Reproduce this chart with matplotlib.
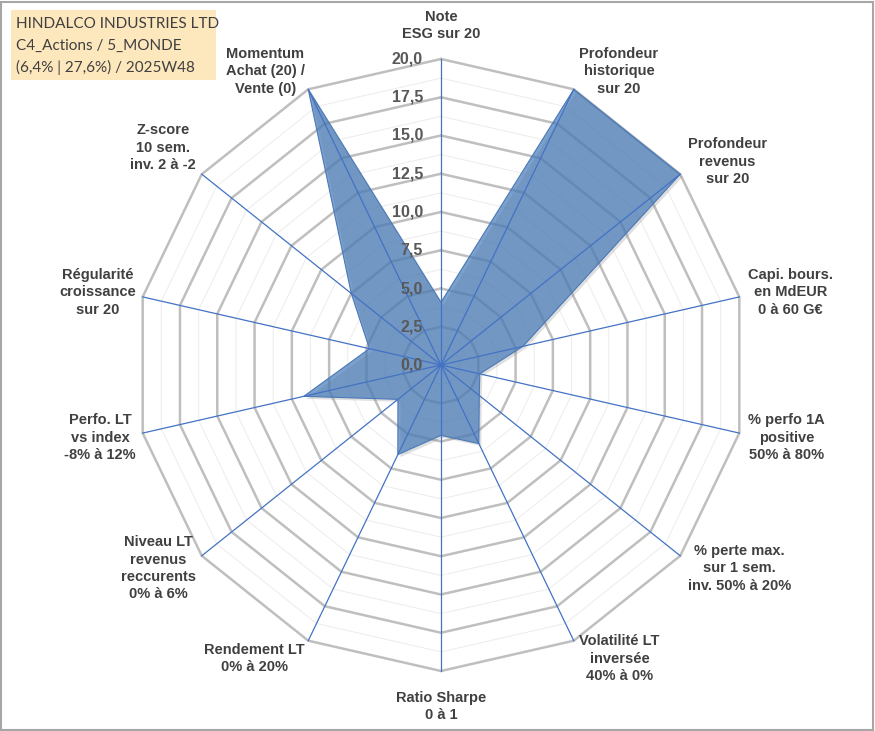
import numpy as np
import matplotlib
matplotlib.use("Agg")
import matplotlib.pyplot as plt
from matplotlib.patches import Polygon, Rectangle

# ---------------- data ----------------
categories = [
    "Note\nESG sur 20",
    "Profondeur\nhistorique\nsur 20",
    "Profondeur\nrevenus\nsur 20",
    "Capi. bours.\nen MdEUR\n0 à 60 G€",
    "% perfo 1A\npositive\n50% à 80%",
    "% perte max.\nsur 1 sem.\ninv. 50% à 20%",
    "Volatilité LT\ninversée\n40% à 0%",
    "Ratio Sharpe\n0 à 1",
    "Rendement LT\n0% à 20%",
    "Niveau LT\nrevenus\nreccurents\n0% à 6%",
    "Perfo. LT\nvs index\n-8% à 12%",
    "Régularité\ncroissance\nsur 20",
    "Z-score\n10 sem.\ninv. 2 à -2",
    "Momentum\nAchat (20) /\nVente (0)",
]
values = [4.1, 20.0, 20.0, 5.5, 2.6, 3.2, 5.7, 4.6, 6.5, 3.6, 9.2, 4.8, 7.5, 20.0]
tick_values = [0.0, 2.5, 5.0, 7.5, 10.0, 12.5, 15.0, 17.5, 20.0]
tick_labels = ["0,0", "2,5", "5,0", "7,5", "10,0", "12,5", "15,0", "17,5", "20,0"]
minor_step = 1.25
r_max = 20.0
title_lines = ["HINDALCO INDUSTRIES LTD", "C4_Actions / 5_MONDE", "(6,4% | 27,6%) / 2025W48"]

# ---------------- layout ----------------
W, H, DPI = 875, 731, 100
cx, cy = 441, 365          # centre in pixels (from top-left)
px = 15.3                  # pixels per data unit
extra_label_lift = {12: 14}  # extra upward nudge (px) for crowded labels

fig = plt.figure(figsize=(W / DPI, H / DPI), dpi=DPI)
fig.patch.set_facecolor("white")
ax = fig.add_axes([0, 0, 1, 1])
ax.set_xlim(-cx / px, (W - cx) / px)
ax.set_ylim(-(H - cy) / px, cy / px)
ax.axis("off")

n = len(categories)
theta = np.arange(n) * 2 * np.pi / n
ux, uy = np.sin(theta), np.cos(theta)

# grid polygons
levels = np.arange(minor_step, r_max + 1e-9, minor_step)
for r in levels:
    major = abs((r / 2.5) - round(r / 2.5)) < 1e-6
    xs = np.append(ux * r, ux[0] * r)
    ys = np.append(uy * r, uy[0] * r)
    if major:
        ax.plot(xs, ys, color="#BFBFBF", lw=1.8, zorder=1, solid_joinstyle="miter")
    else:
        ax.plot(xs, ys, color="#ECECEC", lw=0.7, zorder=0.9)

# data polygon (with a soft shadow)
vals = np.array(values)
pts = np.column_stack([ux * vals, uy * vals])
ax.add_patch(Polygon(pts + np.array([2.5 / px, -2.5 / px]), closed=True,
                     facecolor="#808080", alpha=0.25, edgecolor="none", zorder=1.8))
ax.add_patch(Polygon(pts, closed=True, facecolor="#4479B8", alpha=0.7,
                     edgecolor="none", zorder=2))
ax.add_patch(Polygon(pts, closed=True, facecolor="none", edgecolor="#4A78B8",
                     lw=0.8, zorder=2.5))

# spokes
for i in range(n):
    ax.plot([0, ux[i] * r_max], [0, uy[i] * r_max], color="#4472C4", lw=0.9, zorder=3)

# radial tick labels
for t, lab in zip(tick_values, tick_labels):
    ax.text(-18 / px, t, lab, ha="right", va="center", fontsize=11.5, fontweight="bold",
            color="#595959", family="Liberation Sans", zorder=4)

# category labels
for i, lab in enumerate(categories):
    s, c = ux[i], uy[i]
    d = 6 / px
    x = s * r_max + s * d
    y = c * r_max + c * d
    if abs(s) < 0.05:
        ha = "center"
        va = "bottom" if c > 0 else "top"
        y += (12 if c > 0 else -14) / px
    else:
        ha = "left" if s > 0 else "right"
        va = "center"
        y += c * 14 / px
        x += (3 if s > 0 else -1) / px
    y += extra_label_lift.get(i, 0) / px
    ax.text(x, y, lab, ha=ha, va=va, multialignment="center", fontsize=10.5,
            fontweight="bold", color="#404040", family="Liberation Sans",
            linespacing=1.3, zorder=4)

# title box
fig.add_artist(Rectangle((11 / W, 1 - 80 / H), 205 / W, 70 / H, transform=fig.transFigure,
                         facecolor="#FDE7BD", edgecolor="none", zorder=5))
for k, line in enumerate(title_lines):
    fig.text(16 / W, 1 - (24 + 21.8 * k) / H, line, ha="left", va="center",
             fontsize=11, color="#404040", family="Lato", zorder=6)

# outer frame
fig.add_artist(Rectangle((1 / W, 1 / H), 1 - 3 / W, 1 - 3 / H, transform=fig.transFigure,
                         facecolor="none", edgecolor="#A6A6A6", lw=1.5, zorder=7))

fig.savefig("out.png", dpi=DPI)
